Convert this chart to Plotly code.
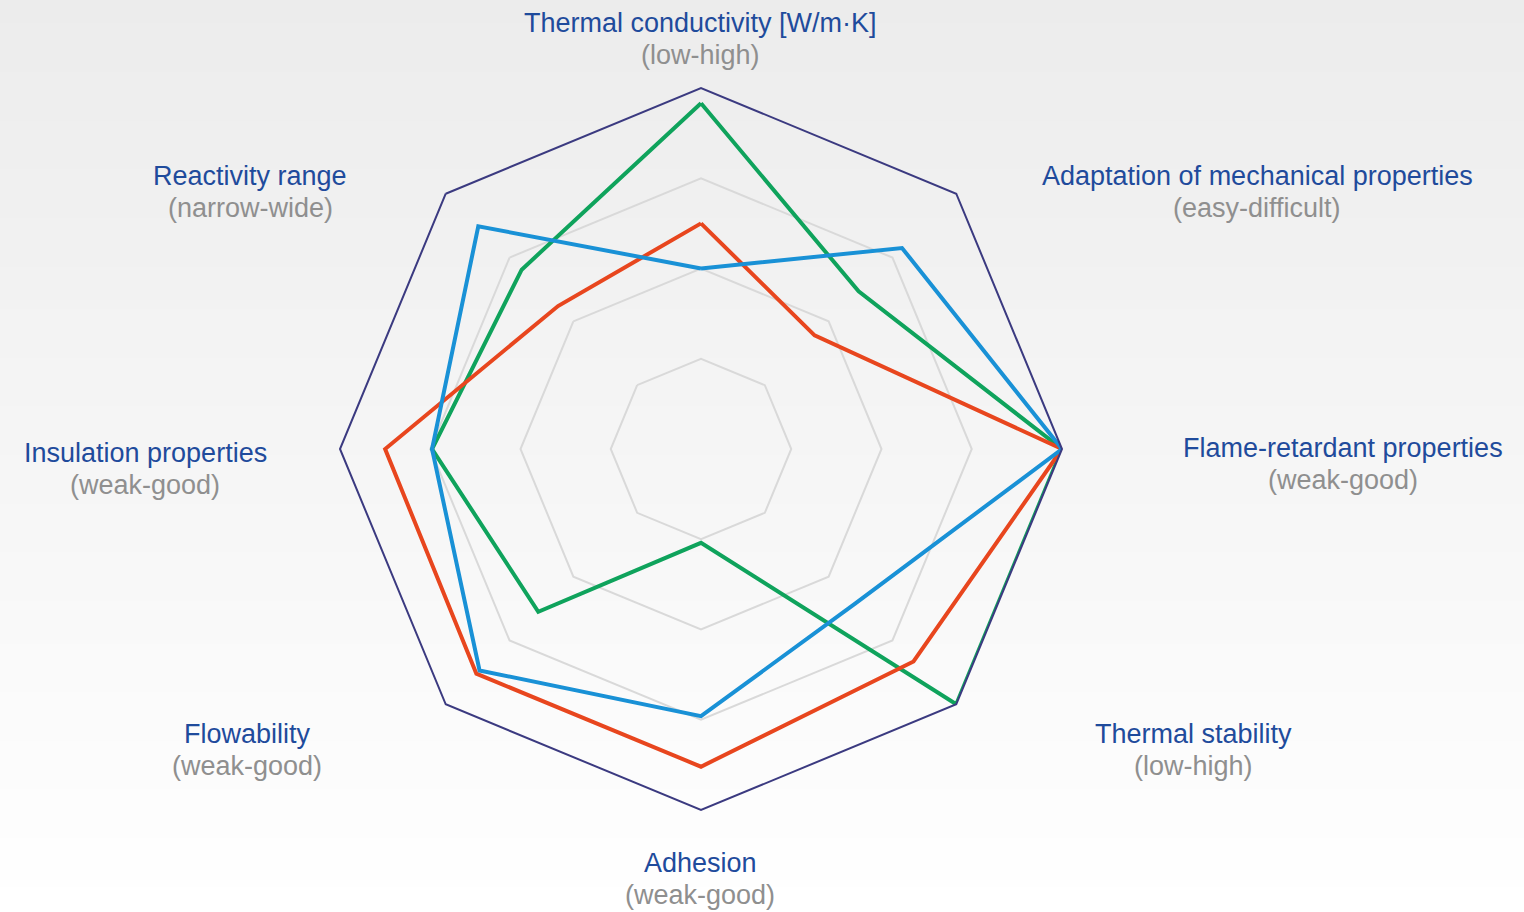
import plotly.graph_objects as go

# Property axes, clockwise from the top
categories = [
    "Thermal conductivity [W/m·K]",
    "Adaptation of mechanical properties",
    "Flame-retardant properties",
    "Thermal stability",
    "Adhesion",
    "Flowability",
    "Insulation properties",
    "Reactivity range",
]
ranges = [
    "(low-high)",
    "(easy-difficult)",
    "(weak-good)",
    "(low-high)",
    "(weak-good)",
    "(weak-good)",
    "(weak-good)",
    "(narrow-wide)",
]

# Scores on a 0-4 scale
green_values = [3.83, 2.47, 4.0, 4.0, 1.04, 2.55, 2.98, 2.81]
red_values = [2.5, 1.78, 4.0, 3.33, 3.52, 3.52, 3.5, 2.24]
blue_values = [2.0, 3.15, 4.0, 2.42, 2.96, 3.47, 2.98, 3.49]

grid_levels = [1, 2, 3, 4]

W, H = 1524, 912
CX, CY, R = 701, 449, 361  # chart centre and outer radius in pixels

LABEL_BLUE = "#1f4b9c"
LABEL_GREY = "#8f8f8f"
FONT = "Liberation Sans, Arial, sans-serif"

fig = go.Figure()

series = [
    ("green", green_values, "#0fa35c"),
    ("red", red_values, "#e8461e"),
    ("blue", blue_values, "#1991d6"),
]
for name, vals, col in series:
    fig.add_trace(go.Scatterpolar(
        r=vals + vals[:1],
        theta=categories + categories[:1],
        mode="lines",
        line=dict(color=col, width=4),
        name=name,
        hoverinfo="skip",
    ))

# soft vertical background gradient
shapes = []
bands = 150
for i in range(bands):
    t = i / (bands - 1)
    v = round(236 + (255 - 236) * t)
    shapes.append(dict(
        type="rect", xref="paper", yref="paper", layer="below",
        x0=0, x1=1, y0=1 - (i + 1) / bands, y1=1 - i / bands + 0.001,
        fillcolor=f"rgb({v},{v},{v})", line=dict(width=0),
    ))

# axis labels: (centre x, title y, range y) in pixels
label_pos = [
    (700, 23, 55),
    (1257, 176, 208),
    (1343, 448, 480),
    (1193, 734, 766),
    (700, 863, 895),
    (247, 734, 766),
    (145, 453, 485),
    (250, 176, 208),
]
annotations = []
for name, rng, (x, y1, y2) in zip(categories, ranges, label_pos):
    annotations.append(dict(
        x=x / W, y=1 - y1 / H, xref="paper", yref="paper",
        text=name, showarrow=False, xanchor="center", yanchor="middle",
        font=dict(family=FONT, size=27, color=LABEL_BLUE),
    ))
    annotations.append(dict(
        x=x / W, y=1 - y2 / H, xref="paper", yref="paper",
        text=rng, showarrow=False, xanchor="center", yanchor="middle",
        font=dict(family=FONT, size=27, color=LABEL_GREY),
    ))

fig.update_layout(
    width=W, height=H,
    margin=dict(l=0, r=0, t=0, b=0),
    paper_bgcolor="white",
    showlegend=False,
    shapes=shapes,
    annotations=annotations,
    polar=dict(
        domain=dict(x=[(CX - R) / W, (CX + R) / W],
                    y=[(H - CY - R) / H, (H - CY + R) / H]),
        bgcolor="rgba(0,0,0,0)",
        gridshape="linear",
        radialaxis=dict(
            range=[0, 4], tickvals=grid_levels, showticklabels=False,
            ticks="", showline=False, gridcolor="#d9d9d9", gridwidth=1.5,
        ),
        angularaxis=dict(
            rotation=90, direction="clockwise", showticklabels=False,
            ticks="", showgrid=False, showline=True,
            linecolor="#3b3a80", linewidth=2,
        ),
    ),
)

fig.write_html("out.html")
